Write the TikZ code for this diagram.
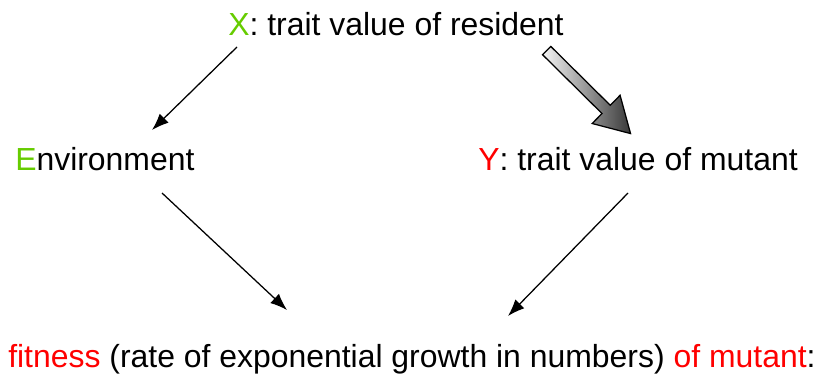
\documentclass[tikz,border=0pt]{standalone}
\usepackage{fontspec}
\setmainfont{Liberation Sans}
\usetikzlibrary{arrows.meta,shapes.arrows}

\definecolor{traitgreen}{RGB}{102,204,0}
\definecolor{mutred}{RGB}{255,0,0}

\begin{document}
\begin{tikzpicture}[
    x=0.025cm, y=-0.025cm,
    font=\fontsize{22.7}{26}\selectfont,
    arrow/.style={-{Latex[length=12pt, width=9pt]}, line width=0.9pt},
    fatarrow/.style={single arrow, draw, line width=0.9pt, inner xsep=0pt, inner ysep=0.13cm,
        minimum height=2.95cm, single arrow head extend=0.35cm,
        single arrow tip angle=60, left color=gray!8, right color=black!78},
    label/.style={anchor=base west, inner sep=0pt}
]
\useasboundingbox (0,0) rectangle (820,376);

\node[label] (resident) at (228,35) {\textcolor{traitgreen}{X}: trait value of resident};
\node[label] (environment) at (15,170) {\textcolor{traitgreen}{E}nvironment};
\node[label] (mutant) at (478,170) {\textcolor{mutred}{Y}: trait value of mutant};
\node[label] (fitness) at (8,367)
{\textcolor{mutred}{fitness} (rate of exponential growth in numbers) \textcolor{mutred}{of mutant}:};

\coordinate (resOut) at (237,47);
\coordinate (envIn) at (152,130);
\coordinate (envOut) at (162,193);
\coordinate (fitIn1) at (287,310);
\coordinate (mutOut) at (628,193);
\coordinate (fitIn2) at (508,316);

\draw[arrow] (resOut) -- (envIn);
\draw[arrow] (envOut) -- (fitIn1);
\draw[arrow] (mutOut) -- (fitIn2);

% resident -> mutant
\node[fatarrow, rotate=-44.7] (invasion) at (585,88.5) {};

\end{tikzpicture}
\end{document}
